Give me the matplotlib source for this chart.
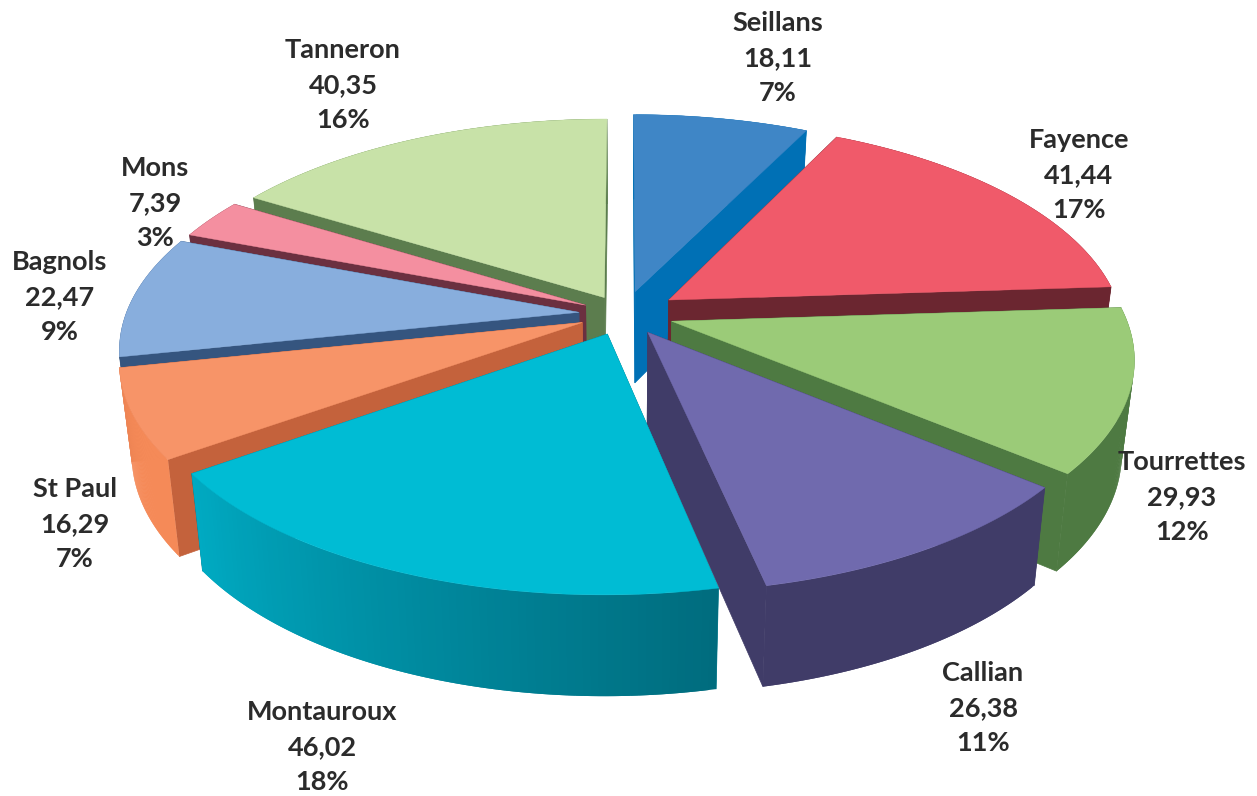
import matplotlib
matplotlib.use('Agg')
import matplotlib.pyplot as plt
import numpy as np
from matplotlib.colors import to_rgb

# data, clockwise from the top
communes = ['Seillans', 'Fayence', 'Tourrettes', 'Callian', 'Montauroux',
            'St Paul', 'Bagnols', 'Mons', 'Tanneron']
surfaces = [18.11, 41.44, 29.93, 26.38, 46.02, 16.29, 22.47, 7.39, 40.35]
percents = ['7%', '17%', '12%', '11%', '18%', '7%', '9%', '3%', '16%']

# styles
TOP_COLORS = ['#3f86c6', '#f05a6a', '#9bcb78', '#706aae', '#00bcd4',
              '#f79468', '#88aedd', '#f48fa0', '#c8e2a8']
SIDE_COLORS = ['#0070b5', '#6b2630', '#4e7a42', '#403c68', '#007a8c',
               '#c4623c', '#35557f', '#6b3040', '#5c7d4e']
RIM_START = ['#0070b5', '#6b2630', '#4e7a42', '#403c68', '#006c7e',
             '#f58a58', '#35557f', '#6b3040', '#5c7d4e']
RIM_END = ['#0070b5', '#6b2630', '#4e7a42', '#403c68', '#00aac2',
           '#f58a58', '#35557f', '#6b3040', '#5c7d4e']
EXPLODE = [0.11, 0.12, 0.11, 0.10, 0.10, 0.10, 0.10, 0.095, 0.09]
LABEL_POS = [(778, 58), (1079, 175), (1182, 497), (983, 708), (322, 747),
             (75, 524), (60, 297), (155, 203), (343, 85)]

CX, CY = 624, 314
RX, RY = 453, 212
PERSP = 0.16
DEPTH = 92
BOTTOM_SHRINK = 0.975


def project(u, v, bottom=False):
    """Pie plane (unit radius, v towards the viewer) to pixels."""
    s = 1 / (1 - PERSP * v)
    x = RX * s * u
    y = RY * s * v
    if bottom:
        return CX + x * BOTTOM_SHRINK, CY + y + DEPTH * np.sqrt(s)
    return CX + x, CY + y


def draw_slice(ax, start, end, explode, top, side, rim_a, rim_b):
    mid = (start + end) / 2
    ou, ov = explode * np.sin(mid), -explode * np.cos(mid)
    th = np.linspace(start, end, 80)
    u = ou + np.sin(th)
    v = ov - np.cos(th)

    # flat cut walls
    for a in (start, end):
        eu, ev = ou + np.sin(a), ov - np.cos(a)
        p = [project(ou, ov), project(eu, ev),
             project(eu, ev, True), project(ou, ov, True)]
        ax.fill(*zip(*p), color=side, lw=0.5)

    # outer wall, strips overlap by one step so no seams show
    c0, c1 = np.array(to_rgb(rim_a)), np.array(to_rgb(rim_b))
    for i in range(len(th) - 1):
        t = i / (len(th) - 2)
        j = min(i + 2, len(th) - 1)
        xa, ya = project(u[i:j + 1], v[i:j + 1])
        xb, yb = project(u[i:j + 1], v[i:j + 1], True)
        ax.fill(np.r_[xa, xb[::-1]], np.r_[ya, yb[::-1]],
                color=c0 + (c1 - c0) * t, lw=0)

    # top face
    xs, ys = project(u, v)
    ox, oy = project(ou, ov)
    ax.fill(np.r_[ox, xs], np.r_[oy, ys], color=top, lw=0.3)


fig = plt.figure(figsize=(12.57, 7.96), dpi=100)
ax = fig.add_axes([0, 0, 1, 1])
ax.set_xlim(0, 1257)
ax.set_ylim(796, 0)
ax.axis('off')

angles = np.r_[0, np.cumsum(surfaces)] / sum(surfaces) * 2 * np.pi
mids = (angles[:-1] + angles[1:]) / 2

# back slices first
for i in np.argsort(-np.cos(mids) * -1 * -1):
    draw_slice(ax, angles[i], angles[i + 1], EXPLODE[i], TOP_COLORS[i],
               SIDE_COLORS[i], RIM_START[i], RIM_END[i])

for name, val, pct, pos in zip(communes, surfaces, percents, LABEL_POS):
    label = f"{name}\n{val:.2f}\n{pct}".replace('.', ',')
    ax.text(pos[0], pos[1], label, ha='center', va='center', family='Lato',
            weight='bold', fontsize=19.5, color='#2b2b2b', linespacing=1.55)

fig.savefig('out.png', dpi=100)
